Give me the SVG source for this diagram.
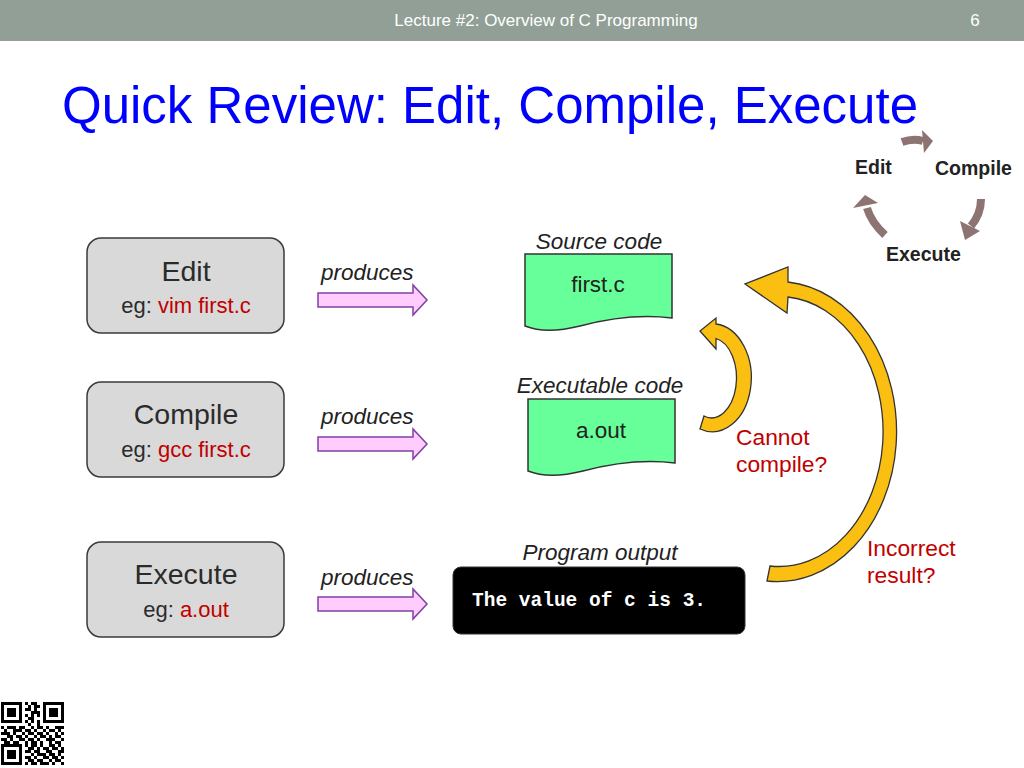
<svg xmlns="http://www.w3.org/2000/svg" width="1024" height="768" viewBox="0 0 1024 768">
<defs>
<style>
text{font-family:"Liberation Sans",Arial,sans-serif}
.hdr{fill:#ffffff;font-size:17px}
.title{fill:#0000ff;font-size:51px}
.box{fill:#d9d9d9;stroke:#3a3a3a;stroke-width:1.5}
.big{fill:#2b2b2b;font-size:28.5px;text-anchor:middle}
.eg{fill:#2b2b2b;font-size:22px;text-anchor:middle}
.red{fill:#c00000}
.it{fill:#222;font-size:22.5px;font-style:italic}
.itc{fill:#222;font-size:22.5px;font-style:italic;text-anchor:middle}
.pink{fill:#ffccff;stroke:#8040a0;stroke-width:1.5}
.doc{fill:#66ff99;stroke:#333;stroke-width:1.5}
.doct{fill:#222;font-size:22.5px;text-anchor:middle}
.gold{fill:#fbbf12;stroke:#333;stroke-width:1.3}
.q{fill:#c00000;font-size:22.8px}
.cyc{fill:#222;font-size:19.5px;font-weight:bold}
.mono{font-family:"Liberation Mono","Courier New",monospace;font-weight:bold;font-size:19.5px;fill:#fff}
.brn{fill:#8e7373}
.brs{fill:none;stroke:#8e7373;stroke-width:8}
</style>
</defs>
<rect width="1024" height="768" fill="#ffffff"/>
<rect x="0" y="0" width="1024" height="41" fill="#919f97"/>
<text class="hdr" x="546" y="26" text-anchor="middle">Lecture #2: Overview of C Programming</text>
<text class="hdr" x="975" y="26" text-anchor="middle">6</text>
<text class="title" x="62" y="123">Quick Review: Edit, Compile, Execute</text>

<g id="cycle">
<path class="brs" d="M902 142 Q913 138 923 141"/>
<polygon class="brn" points="922,130 933,141 924,153"/>
<path class="brs" d="M981 199 Q981 214 971 226"/>
<polygon class="brn" points="960,221 980,231 965,240"/>
<path class="brs" d="M885 235 Q871 222 867 208"/>
<polygon class="brn" points="853,208 865,195 878,203"/>
<text class="cyc" x="855" y="174">Edit</text>
<text class="cyc" x="935" y="175">Compile</text>
<text class="cyc" x="886" y="261">Execute</text>
</g>

<g id="edit">
<rect class="box" x="87" y="238" width="197" height="95" rx="14"/>
<text class="big" x="186" y="281">Edit</text>
<text class="eg" x="186" y="313">eg: <tspan class="red">vim first.c</tspan></text>
</g>
<g id="compile">
<rect class="box" x="87" y="382" width="197" height="95" rx="14"/>
<text class="big" x="186" y="424">Compile</text>
<text class="eg" x="186" y="457">eg: <tspan class="red">gcc first.c</tspan></text>
</g>
<g id="execute">
<rect class="box" x="87" y="542" width="197" height="95" rx="14"/>
<text class="big" x="186" y="584">Execute</text>
<text class="eg" x="186" y="617">eg: <tspan class="red">a.out</tspan></text>
</g>

<g id="connectors">
<path class="pink" transform="translate(318,300)" d="M0 -7H95V-15L109 0L95 15V7H0Z"/>
<path class="pink" transform="translate(318,444)" d="M0 -7H95V-15L109 0L95 15V7H0Z"/>
<path class="pink" transform="translate(318,604)" d="M0 -7H95V-15L109 0L95 15V7H0Z"/>
<text class="it" x="321" y="280">produces</text>
<text class="it" x="321" y="424">produces</text>
<text class="it" x="321" y="585">produces</text>
<path class="gold" d="M700 429 A39 54 0 1 0 716 324 L716 318 L700 331 L716 349 L716 338.5 A25 40 0 1 1 704 416 Z"/>
<path class="gold" d="M767 581 A119 150 0 1 0 788 282 L788 267 L745 284 L787 313 L788 297 A104 135 0 1 1 770 566 Z"/>
<text class="q" x="736" y="445">Cannot</text>
<text class="q" x="736" y="472">compile?</text>
<text class="q" x="867" y="556">Incorrect</text>
<text class="q" x="867" y="583">result?</text>
</g>

<g id="source">
<text class="itc" x="599" y="249">Source code</text>
<path class="doc" d="M525 254H672V318C640 314 610 318 580 326C560 331 540 332 525 326Z"/>
<text class="doct" x="598" y="292">first.c</text>
</g>
<g id="executable">
<text class="itc" x="600" y="393">Executable code</text>
<path class="doc" transform="translate(3,145)" d="M525 254H672V318C640 314 610 318 580 326C560 331 540 332 525 326Z"/>
<text class="doct" x="601" y="438">a.out</text>
</g>
<g id="output">
<text class="itc" x="600" y="560">Program output</text>
<rect x="453" y="567" width="292" height="67" rx="8" fill="#000" stroke="#333"/>
<text class="mono" x="472" y="606">The value of c is 3.</text>
</g>

<g id="qr" transform="translate(1,702) scale(3)" fill="#000">
<path fill-rule="evenodd" d="M0 0h7v7h-7z M1 1v5h5v-5z M14 0h7v7h-7z M15 1v5h5v-5z M0 14h7v7h-7z M1 15v5h5v-5z"/>
<path d="M2 2h3v3h-3z M16 2h3v3h-3z M2 16h3v3h-3z"/>
<path d="M8 0h1v1h-1z M10 0h2v1h-2z M9 1h1v1h-1z M11 1h2v1h-2z M8 2h2v1h-2z M11 2h1v1h-1z M10 3h3v1h-3z M8 4h1v1h-1z M10 4h1v1h-1z M12 4h1v1h-1z M9 5h2v1h-2z M8 6h1v1h-1z M10 6h1v1h-1z M12 6h1v1h-1z M9 7h1v1h-1z M12 7h1v1h-1z
M0 8h1v1h-1z M2 8h3v1h-3z M6 8h2v1h-2z M10 8h1v1h-1z M12 8h2v1h-2z M15 8h1v1h-1z M18 8h3v1h-3z
M1 9h1v1h-1z M4 9h3v1h-3z M8 9h2v1h-2z M11 9h1v1h-1z M14 9h1v1h-1z M16 9h2v1h-2z M19 9h1v1h-1z
M0 10h3v1h-3z M4 10h1v1h-1z M7 10h1v1h-1z M9 10h2v1h-2z M12 10h2v1h-2z M15 10h1v1h-1z M18 10h1v1h-1z M20 10h1v1h-1z
M2 11h2v1h-2z M5 11h2v1h-2z M8 11h1v1h-1z M11 11h1v1h-1z M13 11h2v1h-2z M16 11h1v1h-1z M18 11h2v1h-2z
M0 12h2v1h-2z M3 12h1v1h-1z M6 12h2v1h-2z M9 12h2v1h-2z M12 12h1v1h-1z M15 12h3v1h-3z M20 12h1v1h-1z
M1 13h2v1h-2z M4 13h2v1h-2z M8 13h1v1h-1z M10 13h2v1h-2z M13 13h1v1h-1z M16 13h1v1h-1z M18 13h2v1h-2z
M8 14h1v1h-1z M10 14h2v1h-2z M13 14h1v1h-1z M16 14h2v1h-2z M19 14h1v1h-1z
M9 15h2v1h-2z M12 15h1v1h-1z M14 15h2v1h-2z M17 15h2v1h-2z M20 15h1v1h-1z
M8 16h2v1h-2z M11 16h2v1h-2z M15 16h2v1h-2z M19 16h2v1h-2z
M10 17h1v1h-1z M12 17h3v1h-3z M16 17h2v1h-2z M19 17h1v1h-1z
M8 18h2v1h-2z M11 18h1v1h-1z M14 18h2v1h-2z M17 18h2v1h-2z M20 18h1v1h-1z
M9 19h2v1h-2z M12 19h2v1h-2z M16 19h1v1h-1z M18 19h2v1h-2z
M8 20h1v1h-1z M10 20h2v1h-2z M13 20h3v1h-3z M17 20h1v1h-1z M20 20h1v1h-1z"/>
</g>
</svg>
